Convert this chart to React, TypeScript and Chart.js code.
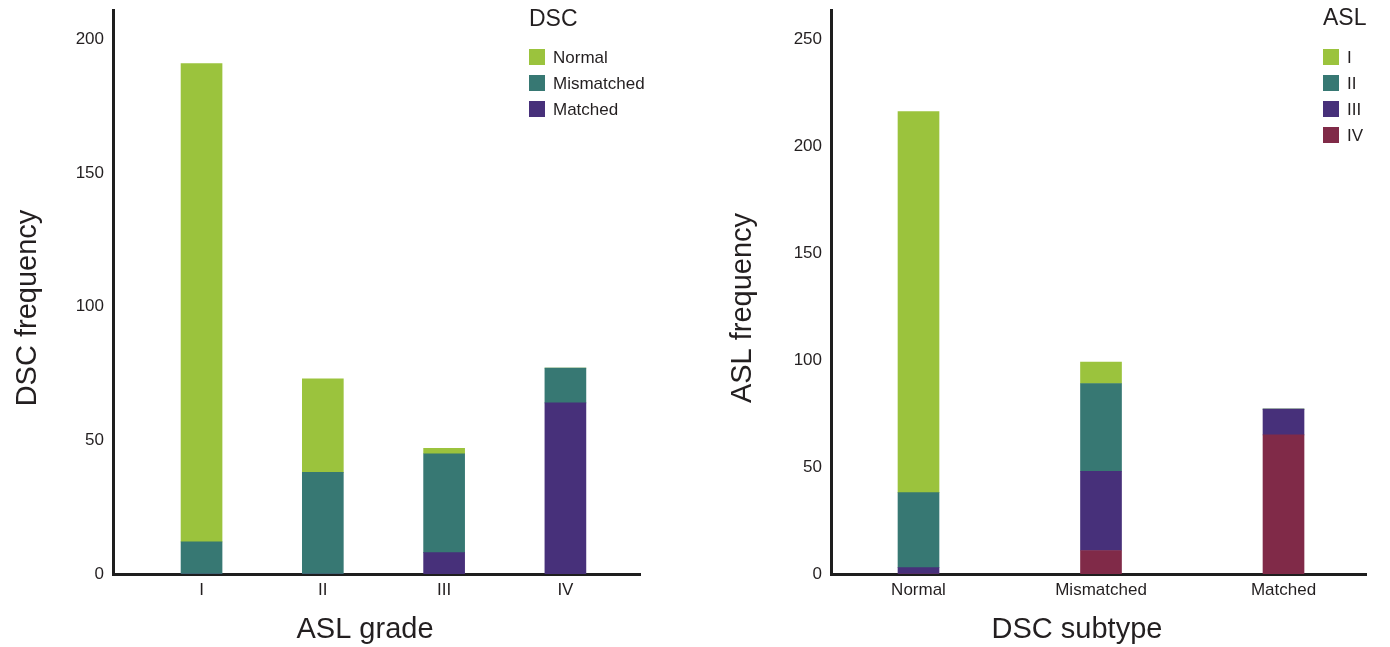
import React, { useEffect, useRef } from 'react';
import { Chart, registerables } from 'chart.js';

Chart.register(...registerables);

// ---- Left panel data: DSC frequency by ASL grade ----
const aslGrades = ['I', 'II', 'III', 'IV'];
const dscNormal = [179, 35, 2, 0];
const dscMismatched = [12, 38, 37, 13];
const dscMatched = [0, 0, 8, 64];
const leftYTicks = [0, 50, 100, 150, 200];

// ---- Right panel data: ASL frequency by DSC subtype ----
const dscSubtypes = ['Normal', 'Mismatched', 'Matched'];
const aslI = [178, 10, 0];
const aslII = [35, 41, 0];
const aslIII = [3, 37, 12];
const aslIV = [0, 11, 65];
const rightYTicks = [0, 50, 100, 150, 200, 250];

const GREEN = '#9BC33D';
const TEAL = '#377873';
const PURPLE = '#47307A';
const MAROON = '#802A48';
const INK = '#231F20';
const FONT = '"Liberation Sans", Arial, Helvetica, sans-serif';

const W = 695;
const H = 647;

const extrasPlugin = {
  id: 'extras',
  afterDraw(chart: any, _args: any, opts: any) {
    const ctx = chart.ctx as CanvasRenderingContext2D;
    ctx.save();
    ctx.fillStyle = INK;
    ctx.textAlign = 'center';
    ctx.textBaseline = 'middle';
    ctx.font = `29px ${FONT}`;
    // y axis title
    ctx.save();
    ctx.translate(opts.yTitleX, opts.yTitleY);
    ctx.rotate(-Math.PI / 2);
    ctx.fillText(opts.yTitle, 0, 0);
    ctx.restore();
    // x axis title
    ctx.fillText(opts.xTitle, opts.xTitleX, opts.xTitleY);
    // legend
    ctx.textAlign = 'left';
    ctx.font = `23px ${FONT}`;
    ctx.fillText(opts.legendTitle, opts.legendX, opts.legendTitleY);
    ctx.font = `17px ${FONT}`;
    const ds = chart.data.datasets.slice().reverse();
    ds.forEach((d: any, i: number) => {
      const cy = opts.legendY0 + i * opts.legendStep;
      ctx.fillStyle = d.backgroundColor;
      ctx.fillRect(opts.legendX, cy - 8, 16, 16);
      ctx.fillStyle = INK;
      ctx.fillText(d.label, opts.legendX + 24, cy + 1);
    });
    ctx.restore();
  },
};

function toPoints(values: number[]) {
  return values.map((v, i) => ({ x: i + 1, y: v }));
}

function makeConfig(p: any) {
  return {
    type: 'bar',
    data: {
      datasets: p.series.map((s: any) => ({
        label: s.label,
        data: toPoints(s.values),
        backgroundColor: s.color,
        borderWidth: 0,
        barThickness: 41,
      })),
    },
    options: {
      responsive: false,
      animation: false,
      devicePixelRatio: 1,
      layout: { padding: { top: 10, right: p.padRight, left: 0, bottom: 0 } },
      plugins: {
        legend: { display: false },
        tooltip: { enabled: false },
        extras: p.extras,
      },
      scales: {
        x: {
          type: 'linear',
          stacked: true,
          offset: false,
          min: p.xMin,
          max: p.xMax,
          z: 1,
          grid: { display: false, drawTicks: false, offset: false },
          border: { display: true, width: 3, color: '#1E1E1E' },
          afterBuildTicks: (scale: any) => {
            scale.ticks = p.categories.map((_: string, i: number) => ({ value: i + 1 }));
          },
          afterFit: (scale: any) => {
            scale.height = 73;
            scale.paddingLeft = 0;
            scale.paddingRight = 0;
          },
          ticks: {
            autoSkip: false,
            maxRotation: 0,
            padding: 6,
            color: INK,
            font: { family: FONT, size: 17 },
            callback: (v: number) => p.categories[Math.round(v) - 1] ?? '',
          },
        },
        y: {
          type: 'linear',
          stacked: true,
          min: 0,
          max: p.yMax,
          z: 1,
          grid: { display: false, drawTicks: false },
          border: { display: true, width: 3, color: '#1E1E1E' },
          afterBuildTicks: (scale: any) => {
            scale.ticks = p.yTicks.map((v: number) => ({ value: v }));
          },
          afterFit: (scale: any) => {
            scale.width = p.yAxisWidth;
            scale.paddingTop = 0;
            scale.paddingBottom = 0;
          },
          ticks: {
            padding: 9,
            color: INK,
            font: { family: FONT, size: 17 },
            callback: (v: number) => String(v),
          },
        },
      },
    },
    plugins: [extrasPlugin],
  };
}

const leftPanel = {
  categories: aslGrades,
  series: [
    { label: 'Matched', values: dscMatched, color: PURPLE },
    { label: 'Mismatched', values: dscMismatched, color: TEAL },
    { label: 'Normal', values: dscNormal, color: GREEN },
  ],
  yTicks: leftYTicks,
  yMax: 211,
  xMin: 0.27,
  xMax: 4.615,
  yAxisWidth: 113,
  padRight: 55,
  extras: {
    yTitle: 'DSC frequency',
    xTitle: 'ASL grade',
    yTitleX: 28,
    yTitleY: 308,
    xTitleX: 365,
    xTitleY: 630,
    legendTitle: 'DSC',
    legendX: 529,
    legendTitleY: 20,
    legendY0: 57,
    legendStep: 26,
  },
};

const rightPanel = {
  categories: dscSubtypes,
  series: [
    { label: 'IV', values: aslIV, color: MAROON },
    { label: 'III', values: aslIII, color: PURPLE },
    { label: 'II', values: aslII, color: TEAL },
    { label: 'I', values: aslI, color: GREEN },
  ],
  yTicks: rightYTicks,
  yMax: 263.5,
  xMin: 0.5205,
  xMax: 3.452,
  yAxisWidth: 136,
  padRight: 24,
  extras: {
    yTitle: 'ASL frequency',
    xTitle: 'DSC subtype',
    yTitleX: 48,
    yTitleY: 308,
    xTitleX: 382,
    xTitleY: 630,
    legendTitle: 'ASL',
    legendX: 628,
    legendTitleY: 19,
    legendY0: 57,
    legendStep: 26,
  },
};

function Panel({ spec, left }: { spec: any; left: number }) {
  const ref = useRef<HTMLCanvasElement | null>(null);
  useEffect(() => {
    if (!ref.current) return;
    const chart = new Chart(ref.current, makeConfig(spec) as any);
    return () => chart.destroy();
  }, [spec]);
  return (
    <canvas
      ref={ref}
      width={W}
      height={H}
      style={{ position: 'absolute', left, top: 0, width: W, height: H }}
    />
  );
}

export default function App() {
  return (
    <div style={{ position: 'absolute', left: 0, top: 0, width: 1390, height: 647, background: '#fff' }}>
      <Panel spec={leftPanel} left={0} />
      <Panel spec={rightPanel} left={W} />
    </div>
  );
}
